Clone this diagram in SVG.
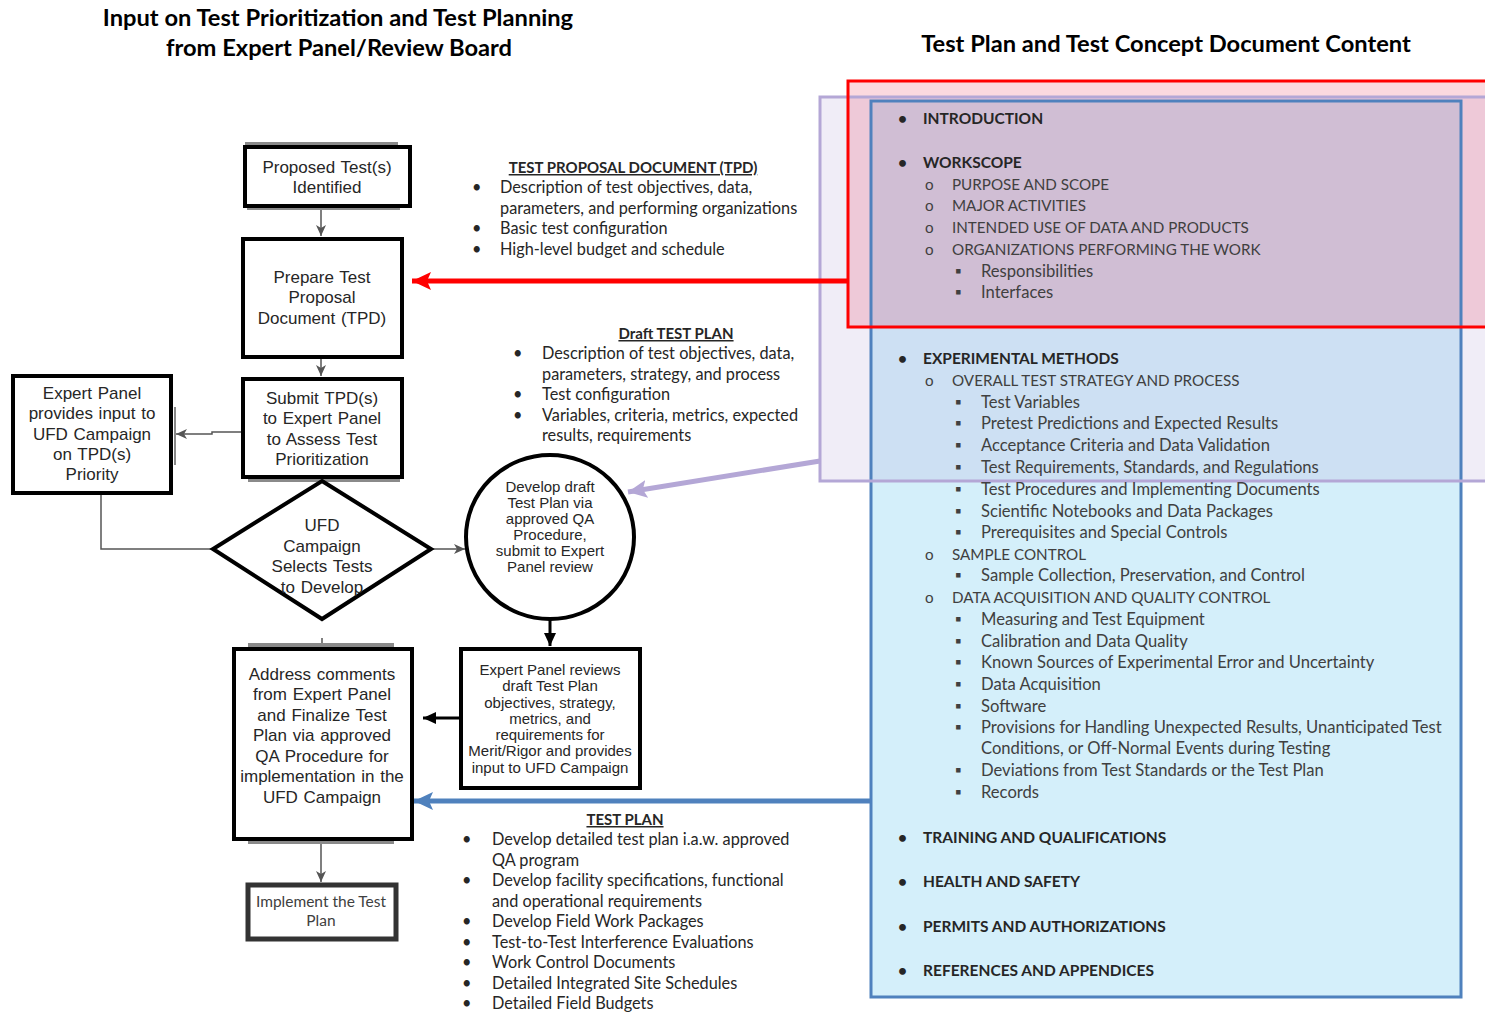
<svg xmlns="http://www.w3.org/2000/svg" width="1485" height="1013" viewBox="0 0 1485 1013">
<defs>
<style>
.title{font-family:Lato,"Liberation Sans",sans-serif;font-weight:bold;font-size:23.7px;fill:#000;text-anchor:middle}
.box{fill:#fff;stroke:#000;stroke-width:4}
.ft{font-family:"Liberation Sans",Arial,sans-serif;font-size:17px;word-spacing:1px;fill:#262626;text-anchor:middle}
.fs{font-family:"Liberation Sans",Arial,sans-serif;font-size:15px;fill:#262626;text-anchor:middle}
.ct{font-family:Lato,"Liberation Sans",sans-serif;font-size:16.3px;fill:#262626}
.ch{font-family:Lato,"Liberation Sans",sans-serif;font-size:15px;font-weight:bold;fill:#262626;text-decoration:underline;text-anchor:middle}
.rt{font-family:Lato,"Liberation Sans",sans-serif;font-size:16.6px;fill:#404040}
.ru{font-size:15.2px}
.rb{font-family:Lato,"Liberation Sans",sans-serif;font-size:15.5px;font-weight:bold;fill:#262626}
.thin{stroke:#555;stroke-width:1.5;fill:none}
.shadow{fill:#8a8a8a}
</style>
<marker id="ag" markerUnits="userSpaceOnUse" markerWidth="12" markerHeight="12" refX="11" refY="6" orient="auto"><path d="M0,1 L11,6 L0,11 L3,6 Z" fill="#555"/></marker>
<marker id="ak" markerUnits="userSpaceOnUse" markerWidth="14" markerHeight="14" refX="13" refY="7" orient="auto"><path d="M0,1 L13,7 L0,13 Z" fill="#000"/></marker>
<marker id="ar" markerUnits="userSpaceOnUse" markerWidth="20" markerHeight="18" refX="19" refY="9" orient="auto"><path d="M0,0 L19,9 L0,18 L4,9 Z" fill="#ff0000"/></marker>
<marker id="al" markerUnits="userSpaceOnUse" markerWidth="20" markerHeight="18" refX="19" refY="9" orient="auto"><path d="M0,0 L19,9 L0,18 L4,9 Z" fill="#b4a7d6"/></marker>
<marker id="ab" markerUnits="userSpaceOnUse" markerWidth="20" markerHeight="18" refX="19" refY="9" orient="auto"><path d="M0,0 L19,9 L0,18 L4,9 Z" fill="#4f81bd"/></marker>
</defs>
<rect width="1485" height="1013" fill="#fff"/>

<g id="titles">
<text class="title" x="338" y="26">Input on Test Prioritization and Test Planning</text>
<text class="title" x="339" y="56">from Expert Panel/Review Board</text>
<text class="title" x="1166" y="52">Test Plan and Test Concept Document Content</text>
</g>

<g id="content-panel">
<rect x="871" y="101" width="590" height="896" fill="#d4effa"/>
<rect x="820" y="97" width="680" height="384" fill="rgb(180,167,214)" fill-opacity="0.2"/>
<rect x="848" y="81" width="650" height="246" fill="rgb(230,0,40)" fill-opacity="0.15"/>
<rect x="871" y="101" width="590" height="896" fill="none" stroke="#4f81bd" stroke-width="3"/>
<rect x="820" y="97" width="680" height="384" fill="none" stroke="#b4a7d6" stroke-width="3"/>
<rect x="848" y="81" width="650" height="246" fill="none" stroke="#ff0000" stroke-width="3"/>
<g class="rb">
<text x="898" y="124">•</text><text x="923" y="124">INTRODUCTION</text>
<text x="898" y="168">•</text><text x="923" y="168">WORKSCOPE</text>
<text x="898" y="364">•</text><text x="923" y="364">EXPERIMENTAL METHODS</text>
<text x="898" y="843">•</text><text x="923" y="843">TRAINING AND QUALIFICATIONS</text>
<text x="898" y="887">•</text><text x="923" y="887">HEALTH AND SAFETY</text>
<text x="898" y="932">•</text><text x="923" y="932">PERMITS AND AUTHORIZATIONS</text>
<text x="898" y="976">•</text><text x="923" y="976">REFERENCES AND APPENDICES</text>
</g>
<g class="rt">
<text x="925" y="190" class="ru">o</text><text x="952" y="190" class="ru">PURPOSE AND SCOPE</text>
<text x="925" y="211" class="ru">o</text><text x="952" y="211" class="ru">MAJOR ACTIVITIES</text>
<text x="925" y="233" class="ru">o</text><text x="952" y="233" class="ru">INTENDED USE OF DATA AND PRODUCTS</text>
<text x="925" y="255" class="ru">o</text><text x="952" y="255" class="ru">ORGANIZATIONS PERFORMING THE WORK</text>
<text x="955" y="277">▪</text><text x="981" y="277">Responsibilities</text>
<text x="955" y="298">▪</text><text x="981" y="298">Interfaces</text>
<text x="925" y="386" class="ru">o</text><text x="952" y="386" class="ru">OVERALL TEST STRATEGY AND PROCESS</text>
<text x="955" y="408">▪</text><text x="981" y="408">Test Variables</text>
<text x="955" y="429">▪</text><text x="981" y="429">Pretest Predictions and Expected Results</text>
<text x="955" y="451">▪</text><text x="981" y="451">Acceptance Criteria and Data Validation</text>
<text x="955" y="473">▪</text><text x="981" y="473">Test Requirements, Standards, and Regulations</text>
<text x="955" y="495">▪</text><text x="981" y="495">Test Procedures and Implementing Documents</text>
<text x="955" y="517">▪</text><text x="981" y="517">Scientific Notebooks and Data Packages</text>
<text x="955" y="538">▪</text><text x="981" y="538">Prerequisites and Special Controls</text>
<text x="925" y="560" class="ru">o</text><text x="952" y="560" class="ru">SAMPLE CONTROL</text>
<text x="955" y="581">▪</text><text x="981" y="581">Sample Collection, Preservation, and Control</text>
<text x="925" y="603" class="ru">o</text><text x="952" y="603" class="ru">DATA ACQUISITION AND QUALITY CONTROL</text>
<text x="955" y="625">▪</text><text x="981" y="625">Measuring and Test Equipment</text>
<text x="955" y="647">▪</text><text x="981" y="647">Calibration and Data Quality</text>
<text x="955" y="668">▪</text><text x="981" y="668">Known Sources of Experimental Error and Uncertainty</text>
<text x="955" y="690">▪</text><text x="981" y="690">Data Acquisition</text>
<text x="955" y="712">▪</text><text x="981" y="712">Software</text>
<text x="955" y="733">▪</text><text x="981" y="733">Provisions for Handling Unexpected Results, Unanticipated Test</text>
<text x="981" y="754">Conditions, or Off-Normal Events during Testing</text>
<text x="955" y="776">▪</text><text x="981" y="776">Deviations from Test Standards or the Test Plan</text>
<text x="955" y="798">▪</text><text x="981" y="798">Records</text>
</g>
</g>

<g id="tpd-notes" class="ct">
<text class="ch" x="633" y="173">TEST PROPOSAL DOCUMENT (TPD)</text>
<text x="472" y="193">•</text><text x="500" y="193">Description of test objectives, data,</text>
<text x="500" y="214">parameters, and performing organizations</text>
<text x="472" y="234">•</text><text x="500" y="234">Basic test configuration</text>
<text x="472" y="255">•</text><text x="500" y="255">High-level budget and schedule</text>
</g>
<g id="draft-notes" class="ct">
<text class="ch" x="676" y="339">Draft TEST PLAN</text>
<text x="513" y="359">•</text><text x="542" y="359">Description of test objectives, data,</text>
<text x="542" y="380">parameters, strategy, and process</text>
<text x="513" y="400">•</text><text x="542" y="400">Test configuration</text>
<text x="513" y="421">•</text><text x="542" y="421">Variables, criteria, metrics, expected</text>
<text x="542" y="441">results, requirements</text>
</g>
<g id="testplan-notes" class="ct">
<text class="ch" x="625" y="825">TEST PLAN</text>
<text x="462" y="845">•</text><text x="492" y="845">Develop detailed test plan i.a.w. approved</text>
<text x="492" y="866">QA program</text>
<text x="462" y="886">•</text><text x="492" y="886">Develop facility specifications, functional</text>
<text x="492" y="907">and operational requirements</text>
<text x="462" y="927">•</text><text x="492" y="927">Develop Field Work Packages</text>
<text x="462" y="948">•</text><text x="492" y="948">Test-to-Test Interference Evaluations</text>
<text x="462" y="968">•</text><text x="492" y="968">Work Control Documents</text>
<text x="462" y="989">•</text><text x="492" y="989">Detailed Integrated Site Schedules</text>
<text x="462" y="1009">•</text><text x="492" y="1009">Detailed Field Budgets</text>
</g>

<g id="connectors">
<line class="thin" x1="321" y1="208" x2="321" y2="236" marker-end="url(#ag)"/>
<line class="thin" x1="321" y1="358" x2="321" y2="376" marker-end="url(#ag)"/>
<polyline class="thin" points="242,432 212,432 212,434 176,434" marker-end="url(#ag)"/>
<line x1="175" y1="407" x2="175" y2="465" stroke="#888" stroke-width="2"/>
<polyline class="thin" points="101,495 101,549 213,549"/>
<line class="thin" x1="432" y1="549" x2="465" y2="549" marker-end="url(#ag)"/>
<line x1="322" y1="638" x2="322" y2="646" stroke="#555" stroke-width="1.5"/>
<line x1="550" y1="619" x2="550" y2="646" stroke="#000" stroke-width="3" marker-end="url(#ak)"/>
<line x1="459" y1="718" x2="423" y2="718" stroke="#000" stroke-width="3" marker-end="url(#ak)"/>
<line class="thin" x1="321" y1="841" x2="321" y2="882" marker-end="url(#ag)"/>
<line x1="848" y1="281" x2="412" y2="281" stroke="#ff0000" stroke-width="5" marker-end="url(#ar)"/>
<line x1="820" y1="461" x2="628" y2="492" stroke="#b4a7d6" stroke-width="5" marker-end="url(#al)"/>
<line x1="871" y1="801" x2="414" y2="801" stroke="#4f81bd" stroke-width="5" marker-end="url(#ab)"/>
</g>

<g id="n-proposed">
<rect class="shadow" x="245" y="142" width="153" height="8"/>
<rect class="shadow" x="247" y="204" width="153" height="6"/>
<rect class="box" x="245" y="147" width="165" height="59"/>
<text class="ft" x="327" y="173">Proposed Test(s)</text>
<text class="ft" x="327" y="193">Identified</text>
</g>
<g id="n-prepare">
<rect class="box" x="243" y="239" width="159" height="118"/>
<text class="ft" x="322" y="283">Prepare Test</text>
<text class="ft" x="322" y="303">Proposal</text>
<text class="ft" x="322" y="324">Document (TPD)</text>
</g>
<g id="n-submit">
<rect class="shadow" x="248" y="476" width="152" height="6"/>
<rect class="box" x="243" y="379" width="159" height="98"/>
<text class="ft" x="322" y="404">Submit TPD(s)</text>
<text class="ft" x="322" y="424">to Expert Panel</text>
<text class="ft" x="322" y="445">to Assess Test</text>
<text class="ft" x="322" y="465">Prioritization</text>
</g>
<g id="n-expert-input">
<rect class="box" x="13" y="376" width="158" height="117"/>
<text class="ft" x="92" y="399">Expert Panel</text>
<text class="ft" x="92" y="419">provides input to</text>
<text class="ft" x="92" y="440">UFD Campaign</text>
<text class="ft" x="92" y="460">on TPD(s)</text>
<text class="ft" x="92" y="480">Priority</text>
</g>
<g id="n-select">
<polygon points="322,481 431,549 322,619 213,549" fill="#fff" stroke="#000" stroke-width="4"/>
<text class="ft" x="322" y="531">UFD</text>
<text class="ft" x="322" y="552">Campaign</text>
<text class="ft" x="322" y="572">Selects Tests</text>
<text class="ft" x="322" y="593">to Develop</text>
</g>
<g id="n-develop">
<ellipse cx="550" cy="537" rx="84" ry="82" fill="#fff" stroke="#000" stroke-width="4"/>
<text class="fs" x="550" y="492">Develop draft</text>
<text class="fs" x="550" y="508">Test Plan via</text>
<text class="fs" x="550" y="524">approved QA</text>
<text class="fs" x="550" y="540">Procedure,</text>
<text class="fs" x="550" y="556">submit to Expert</text>
<text class="fs" x="550" y="572">Panel review</text>
</g>
<g id="n-review">
<rect class="box" x="461" y="649" width="179" height="139"/>
<text class="fs" x="550" y="675">Expert Panel reviews</text>
<text class="fs" x="550" y="691">draft Test Plan</text>
<text class="fs" x="550" y="708">objectives, strategy,</text>
<text class="fs" x="550" y="724">metrics, and</text>
<text class="fs" x="550" y="740">requirements for</text>
<text class="fs" x="550" y="756">Merit/Rigor and provides</text>
<text class="fs" x="550" y="773">input to UFD Campaign</text>
</g>
<g id="n-address">
<rect class="shadow" x="248" y="643" width="146" height="8"/>
<rect class="shadow" x="248" y="838" width="146" height="6"/>
<rect class="box" x="234" y="649" width="178" height="190"/>
<text class="ft" x="322" y="680">Address comments</text>
<text class="ft" x="322" y="700">from Expert Panel</text>
<text class="ft" x="322" y="721">and Finalize Test</text>
<text class="ft" x="322" y="741">Plan via approved</text>
<text class="ft" x="322" y="762">QA Procedure for</text>
<text class="ft" x="322" y="782">implementation  in the</text>
<text class="ft" x="322" y="803">UFD Campaign</text>
</g>
<g id="n-implement">
<rect x="248" y="885" width="148" height="54" fill="#fff" stroke="#333" stroke-width="5"/>
<text x="321" y="907" font-family="Lato,'Liberation Sans',sans-serif" font-size="15.5" fill="#404040" text-anchor="middle">Implement the Test</text>
<text x="321" y="926" font-family="Lato,'Liberation Sans',sans-serif" font-size="15.5" fill="#404040" text-anchor="middle">Plan</text>
</g>
</svg>
